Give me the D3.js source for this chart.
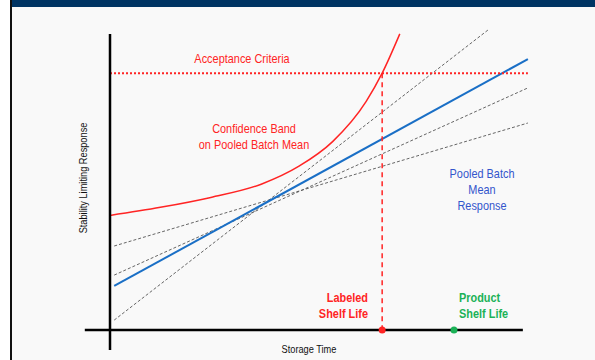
<!DOCTYPE html>
<html>
<head>
<meta charset="utf-8">
<script src="https://cdn.jsdelivr.net/npm/d3@7"></script>
<style>
  html, body { margin: 0; padding: 0; background: #ffffff; }
  svg { display: block; }
  text { font-family: "Liberation Sans", Arimo, sans-serif; }
</style>
</head>
<body>
<script>
// Storage time (x) and response (y) in arbitrary units
const pooledMean = [[1, 14.7], [99.5, 90.3]];
const batchLines = [
  [[1, 3.3], [90, 100]],
  [[1, 18.3], [99.5, 80.7]],
  [[1, 28], [99.5, 69]]
];
const confidenceBand = [
  [0, 38.2], [12, 40.9], [24, 44.2], [36, 48.6], [45, 54.6],
  [53, 62.8], [61, 76.2], [64.8, 85.6], [69, 98.7]
];
const acceptanceLimit = 85.6;
const acceptanceSpan = [0, 99.5];
const labeledShelfLife = 64.8;
const productShelfLife = 81.9;
const xAxisSpan = [-6, 98.3];
const yAxisSpan = [-6.7, 98.7];

const W = 595, H = 360;
const NARROW = 0.84; // horizontal squeeze giving a condensed face
const svg = d3.select("body").append("svg").attr("width", W).attr("height", H);

// frame
svg.append("rect").attr("x", 0).attr("y", 0).attr("width", W).attr("height", H).attr("fill", "#ffffff");
svg.append("rect").attr("x", 12).attr("y", 0).attr("width", W - 12).attr("height", H).attr("fill", "#f9f9f9");
svg.append("rect").attr("x", 10).attr("y", 0).attr("width", 2).attr("height", H).attr("fill", "#111111");
svg.append("rect").attr("x", 12).attr("y", 0).attr("width", W - 12).attr("height", 7).attr("fill", "#003463");

const x = d3.scaleLinear().domain([0, 100]).range([110, 530]);
const y = d3.scaleLinear().domain([0, 100]).range([330, 30]);
const line = d3.line().x(d => x(d[0])).y(d => y(d[1]));

const red = "#ff2424", blue = "#1a6fc6", green = "#1bb257", navyText = "#3355cc";

// batch regression lines
svg.selectAll(".batch").data(batchLines).join("path")
  .attr("class", "batch")
  .attr("d", line)
  .attr("fill", "none").attr("stroke", "#555").attr("stroke-width", 0.9)
  .attr("stroke-dasharray", "3,2");

// pooled mean line
svg.append("path").attr("d", line(pooledMean))
  .attr("fill", "none").attr("stroke", blue).attr("stroke-width", 2);

// confidence band
svg.append("path").attr("d", d3.line().x(d => x(d[0])).y(d => y(d[1])).curve(d3.curveMonotoneX)(confidenceBand))
  .attr("fill", "none").attr("stroke", red).attr("stroke-width", 1.5);

// acceptance criteria
svg.append("line")
  .attr("x1", x(acceptanceSpan[0])).attr("x2", x(acceptanceSpan[1]))
  .attr("y1", y(acceptanceLimit)).attr("y2", y(acceptanceLimit))
  .attr("stroke", red).attr("stroke-width", 2).attr("stroke-dasharray", "2,2");

// labeled shelf life drop line
svg.append("line")
  .attr("x1", x(labeledShelfLife)).attr("x2", x(labeledShelfLife))
  .attr("y1", y(acceptanceLimit)).attr("y2", y(0))
  .attr("stroke", red).attr("stroke-width", 1.5).attr("stroke-dasharray", "5,4");

// axes
svg.append("line").attr("x1", x(xAxisSpan[0])).attr("x2", x(xAxisSpan[1]))
  .attr("y1", y(0)).attr("y2", y(0)).attr("stroke", "#000").attr("stroke-width", 2.5);
svg.append("line").attr("x1", x(0)).attr("x2", x(0))
  .attr("y1", y(yAxisSpan[0])).attr("y2", y(yAxisSpan[1])).attr("stroke", "#000").attr("stroke-width", 2.5);

// shelf life markers
svg.append("circle").attr("cx", x(labeledShelfLife)).attr("cy", y(0)).attr("r", 3.5).attr("fill", red);
svg.append("circle").attr("cx", x(productShelfLife)).attr("cy", y(0)).attr("r", 3.5).attr("fill", green);

// labels
function label(lines, px, py, opts) {
  const t = svg.append("text")
    .attr("transform", `translate(${px},${py}) ${opts.rotate ? "rotate(-90) " : ""}scale(${NARROW},1)`)
    .attr("fill", opts.color)
    .attr("font-size", opts.size || 13)
    .attr("font-weight", opts.weight || "normal")
    .attr("text-anchor", opts.anchor || "middle");
  lines.forEach((s, i) => t.append("tspan").attr("x", 0).attr("dy", i === 0 ? 0 : 16).text(s));
  return t;
}
label(["Acceptance Criteria"], 242, 63, { color: red });
label(["Confidence Band", "on Pooled Batch Mean"], 254, 133, { color: red });
label(["Pooled Batch", "Mean", "Response"], 482, 178, { color: navyText });
label(["Labeled", "Shelf Life"], 368, 302, { color: red, weight: "bold", anchor: "end" });
label(["Product", "Shelf Life"], 459, 302, { color: green, weight: "bold", anchor: "start" });
label(["Storage Time"], 309, 353, { color: "#111", size: 11 });
label(["Stability Limiting Response"], 87, 178, { color: "#111", size: 11, rotate: true });
</script>
</body>
</html>
